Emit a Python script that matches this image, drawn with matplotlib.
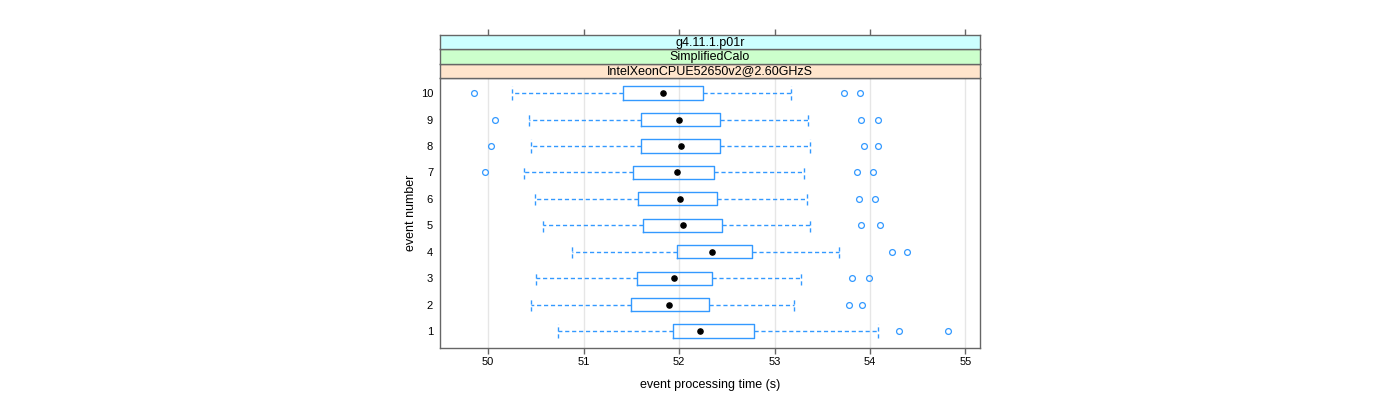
import matplotlib
matplotlib.use("Agg")
import matplotlib.pyplot as plt

plt.rcParams['font.family'] = ['Liberation Sans', 'DejaVu Sans']

# box statistics per event
events = [1, 2, 3, 4, 5, 6, 7, 8, 9, 10]
whislo = [50.73, 50.45, 50.50, 50.88, 50.58, 50.49, 50.38, 50.45, 50.43, 50.25]
q1 = [51.94, 51.50, 51.56, 51.98, 51.62, 51.57, 51.52, 51.60, 51.60, 51.41]
med = [52.22, 51.90, 51.95, 52.35, 52.04, 52.01, 51.98, 52.02, 52.00, 51.83]
q3 = [52.79, 52.31, 52.35, 52.76, 52.45, 52.40, 52.37, 52.43, 52.43, 52.25]
whishi = [54.08, 53.20, 53.28, 53.68, 53.37, 53.34, 53.31, 53.37, 53.35, 53.17]
outliers = [
    [54.30, 54.82],
    [53.78, 53.92],
    [53.81, 53.99],
    [54.23, 54.39],
    [53.91, 54.11],
    [53.89, 54.05],
    [49.97, 53.86, 54.03],
    [50.03, 53.94, 54.08],
    [50.07, 53.91, 54.08],
    [49.85, 53.73, 53.90],
]
strips = ["IntelXeonCPUE52650v2@2.60GHzS", "SimplifiedCalo", "g4.11.1.p01r"]
strip_colors = ["#ffe5cc", "#ccffcc", "#ccffff"]
xticks = [50, 51, 52, 53, 54, 55]

blue = "#3399ff"
frame = "#666666"
W, H = 1400, 400

fig = plt.figure(figsize=(14, 4), dpi=100)
ax = fig.add_axes([440 / W, 1 - 347.7 / H, 540 / W, (347.7 - 78) / H])

stats = []
for i in range(len(events)):
    stats.append(dict(whislo=whislo[i], q1=q1[i], med=med[i], q3=q3[i],
                      whishi=whishi[i], fliers=outliers[i]))

ax.bxp(stats, positions=events, vert=False, widths=0.5, capwidths=0.5,
       showfliers=True, patch_artist=False,
       boxprops=dict(color=blue, linewidth=1.0),
       whiskerprops=dict(color=blue, linewidth=1.0, linestyle=(0, (3, 2))),
       capprops=dict(color=blue, linewidth=1.0, linestyle=(0, (3, 2))),
       medianprops=dict(visible=False),
       flierprops=dict(marker='o', markerfacecolor='none', markeredgecolor=blue,
                       markersize=4.2, markeredgewidth=0.9, linestyle='none'))
ax.scatter(med, events, s=14, color='black', zorder=5)

for x in xticks:
    ax.axvline(x, color="#e6e6e6", linewidth=1.0, zorder=0)

ax.set_xlim(49.497, 55.152)
ax.set_ylim(0.37, 10.57)
ax.set_xticks(xticks)
ax.set_xticklabels([str(x) for x in xticks])
ax.set_yticks(events)
ax.set_yticklabels([str(e) for e in events])
ax.tick_params(axis='x', direction='out', length=4, width=1, color=frame,
               labelsize=8, pad=3)
ax.tick_params(axis='y', length=0, labelsize=8, pad=5)
for sp in ax.spines.values():
    sp.set_color(frame)
    sp.set_linewidth(1.0)
ax.set_xlabel("event processing time (s)", fontsize=9, labelpad=8)
ax.set_ylabel("event number", fontsize=9, labelpad=3)

# strips on top of the panel, from the panel upwards
edges = [78, 63.7, 49.3, 34.7]
for k in range(3):
    top, bot = edges[k + 1], edges[k]
    sax = fig.add_axes([440 / W, 1 - bot / H, 540 / W, (bot - top) / H])
    sax.set_facecolor(strip_colors[k])
    sax.set_xlim(ax.get_xlim())
    sax.set_ylim(0, 1)
    sax.text(0.5, 0.45, strips[k], transform=sax.transAxes, ha='center',
             va='center', fontsize=9)
    for sp in sax.spines.values():
        sp.set_color(frame)
        sp.set_linewidth(1.0)
    sax.set_yticks([])
    if k == 2:
        sax.set_xticks(xticks)
        sax.tick_params(axis='x', top=True, bottom=False, labeltop=False,
                        labelbottom=False, direction='out', length=4,
                        width=1, color=frame)
    else:
        sax.set_xticks([])

fig.savefig("out.png", dpi=100)
